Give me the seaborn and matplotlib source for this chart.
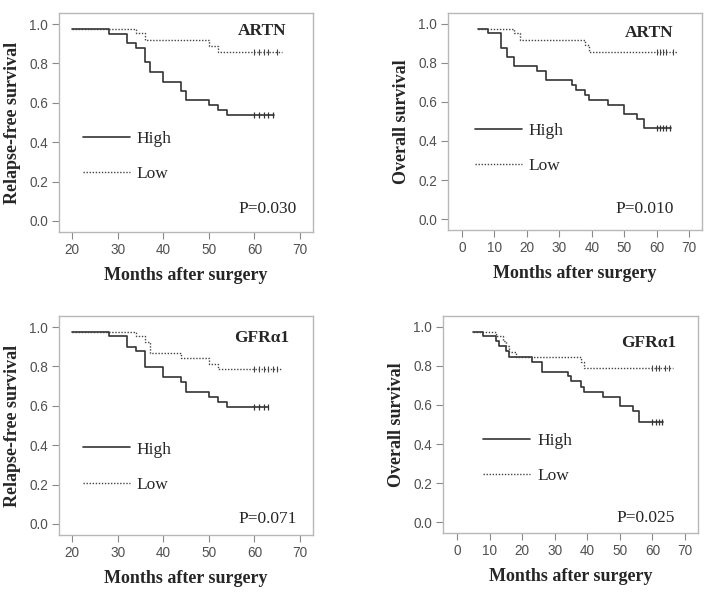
import numpy as np
import pandas as pd
import seaborn as sns
import matplotlib.pyplot as plt

# ----------------------
# DATA
# ----------------------
# relapse-free survival, ARTN
rfs_artn_high_t = [20, 28, 32, 34, 36, 37, 40, 44, 45, 50, 52, 54, 64.2]
rfs_artn_high_s = [0.975, 0.950, 0.902, 0.878, 0.805, 0.757, 0.707, 0.660, 0.612, 0.588, 0.563, 0.538, 0.538]
rfs_artn_high_c = [60, 61, 62, 63, 64]
rfs_artn_low_t = [20, 34, 36, 50, 52, 66]
rfs_artn_low_s = [0.975, 0.952, 0.917, 0.890, 0.859, 0.859]
rfs_artn_low_c = [60, 61, 62, 63, 65]

# overall survival, ARTN
os_artn_high_t = [5, 8, 12, 14, 16, 23, 26, 34, 35, 38, 39, 45, 50, 54, 56, 64.4]
os_artn_high_s = [0.975, 0.953, 0.877, 0.830, 0.782, 0.758, 0.710, 0.685, 0.660, 0.635, 0.610, 0.585, 0.538, 0.513, 0.466, 0.466]
os_artn_high_c = [60, 61, 62, 63, 64]
os_artn_low_t = [5, 16, 18, 38, 39, 66.3]
os_artn_low_s = [0.975, 0.953, 0.917, 0.890, 0.857, 0.857]
os_artn_low_c = [60, 61, 62, 63, 65]

# relapse-free survival, GFRa1
rfs_gfr_high_t = [20, 28, 32, 34, 36, 40, 44, 45, 50, 52, 54, 63]
rfs_gfr_high_s = [0.975, 0.952, 0.900, 0.878, 0.798, 0.745, 0.722, 0.668, 0.643, 0.617, 0.592, 0.592]
rfs_gfr_high_c = [60, 61, 62, 63]
rfs_gfr_low_t = [20, 34, 36, 37, 44, 50, 52, 66]
rfs_gfr_low_s = [0.975, 0.952, 0.923, 0.869, 0.843, 0.813, 0.787, 0.787]
rfs_gfr_low_c = [60, 61, 62, 63, 64, 65]

# overall survival, GFRa1
os_gfr_high_t = [5, 8, 12, 13, 15, 16, 23, 26, 34, 35, 38, 39, 45, 50, 54, 56, 63.3]
os_gfr_high_s = [0.975, 0.952, 0.927, 0.900, 0.875, 0.847, 0.822, 0.770, 0.747, 0.722, 0.694, 0.668, 0.643, 0.595, 0.570, 0.515, 0.515]
os_gfr_high_c = [60, 61, 62, 63]
os_gfr_low_t = [5, 12, 14, 15, 16, 18, 38, 39, 66.3]
os_gfr_low_s = [0.975, 0.952, 0.927, 0.900, 0.870, 0.845, 0.818, 0.787, 0.787]
os_gfr_low_c = [60, 61, 62, 64, 65]

y_ticks = [0.0, 0.2, 0.4, 0.6, 0.8, 1.0]
rfs_x_ticks = [20, 30, 40, 50, 60, 70]
os_x_ticks = [0, 10, 20, 30, 40, 50, 60, 70]

# ----------------------
# STYLE
# ----------------------
sns.set_style("ticks")
plt.rcParams['font.family'] = ['Liberation Serif', 'DejaVu Serif']

LINE_COLOR = '#333333'
FRAME_COLOR = '#b8b8b8'
TICK_COLOR = '#8a8a8a'
TICKLABEL_COLOR = '#505050'
DOTTED = (0, (1.0, 1.2))


def level_at(times, surv, t):
    # survival level in force at time t (step function)
    idx = np.searchsorted(times, t, side='right') - 1
    return surv[max(idx, 0)]


def km_panel(ax, high_t, high_s, high_c, low_t, low_s, low_c,
             xlim, xticks, ylabel, name, pval,
             name_xy, p_xy, leg_xy):
    sns.lineplot(x=high_t, y=high_s, ax=ax, drawstyle='steps-post',
                 color=LINE_COLOR, lw=1.2, label='High', estimator=None)
    sns.lineplot(x=low_t, y=low_s, ax=ax, drawstyle='steps-post',
                 color='#444444', lw=1.0, linestyle=DOTTED, label='Low',
                 estimator=None)

    hc_y = [level_at(high_t, high_s, t) for t in high_c]
    lc_y = [level_at(low_t, low_s, t) for t in low_c]
    sns.scatterplot(x=high_c, y=hc_y, ax=ax, marker='|', s=22,
                    color=LINE_COLOR, linewidth=0.9, legend=False)
    sns.scatterplot(x=low_c, y=lc_y, ax=ax, marker='|', s=18,
                    color='#444444', linewidth=0.8, legend=False)

    ax.set_xlim(*xlim)
    ax.set_ylim(-0.056, 1.056)
    ax.set_xticks(xticks)
    ax.set_yticks(y_ticks)
    ax.set_yticklabels([f'{v:.1f}' for v in y_ticks])
    ax.tick_params(axis='both', direction='out', length=5, width=0.8,
                   color=TICK_COLOR, labelcolor=TICKLABEL_COLOR,
                   labelsize=9.8, pad=3, bottom=True, left=True)
    for lab in ax.get_xticklabels() + ax.get_yticklabels():
        lab.set_family('Liberation Sans')
    for sp in ax.spines.values():
        sp.set_visible(True)
        sp.set_color(FRAME_COLOR)
        sp.set_linewidth(1.0)

    ax.set_xlabel('Months after surgery', fontsize=13, fontweight='bold',
                  labelpad=7)
    ax.set_ylabel(ylabel, fontsize=13, fontweight='bold', labelpad=6)

    ax.text(name_xy[0], name_xy[1], name, transform=ax.transAxes,
            ha='right', va='center', fontsize=12.5, fontweight='bold')
    ax.text(p_xy[0], p_xy[1], pval, transform=ax.transAxes,
            ha='right', va='center', fontsize=12.5)

    ax.legend(loc='center left', bbox_to_anchor=leg_xy, frameon=False,
              fontsize=12.5, handlelength=2.7, handletextpad=0.4,
              labelspacing=1.1, borderpad=0, borderaxespad=0)


fig = plt.figure(figsize=(7.18, 6.02), dpi=100)
fig.patch.set_facecolor('white')

ax1 = fig.add_axes([0.0822, 0.6146, 0.3538, 0.3638])
ax2 = fig.add_axes([0.6240, 0.6180, 0.3538, 0.3605])
ax3 = fig.add_axes([0.0822, 0.1113, 0.3538, 0.3638])
ax4 = fig.add_axes([0.6170, 0.1146, 0.3550, 0.3605])

km_panel(ax1, rfs_artn_high_t, rfs_artn_high_s, rfs_artn_high_c,
         rfs_artn_low_t, rfs_artn_low_s, rfs_artn_low_c,
         (17.15, 72.85), rfs_x_ticks, 'Relapse-free survival', 'ARTN',
         'P=0.030', (0.896, 0.919), (0.936, 0.104), (0.093, 0.345))
km_panel(ax2, os_artn_high_t, os_artn_high_s, os_artn_high_c,
         os_artn_low_t, os_artn_low_s, os_artn_low_c,
         (-4.3, 74.0), os_x_ticks, 'Overall survival', 'ARTN',
         'P=0.010', (0.887, 0.906), (0.887, 0.097), (0.106, 0.377))
km_panel(ax3, rfs_gfr_high_t, rfs_gfr_high_s, rfs_gfr_high_c,
         rfs_gfr_low_t, rfs_gfr_low_s, rfs_gfr_low_c,
         (17.15, 72.85), rfs_x_ticks, 'Relapse-free survival', 'GFRα1',
         'P=0.071', (0.907, 0.898), (0.936, 0.072), (0.093, 0.310))
km_panel(ax4, os_gfr_high_t, os_gfr_high_s, os_gfr_high_c,
         os_gfr_low_t, os_gfr_low_s, os_gfr_low_c,
         (-4.3, 74.0), os_x_ticks, 'Overall survival', 'GFRα1',
         'P=0.025', (0.916, 0.874), (0.910, 0.068), (0.158, 0.343))

fig.savefig('out.png', dpi=100, facecolor='white')
